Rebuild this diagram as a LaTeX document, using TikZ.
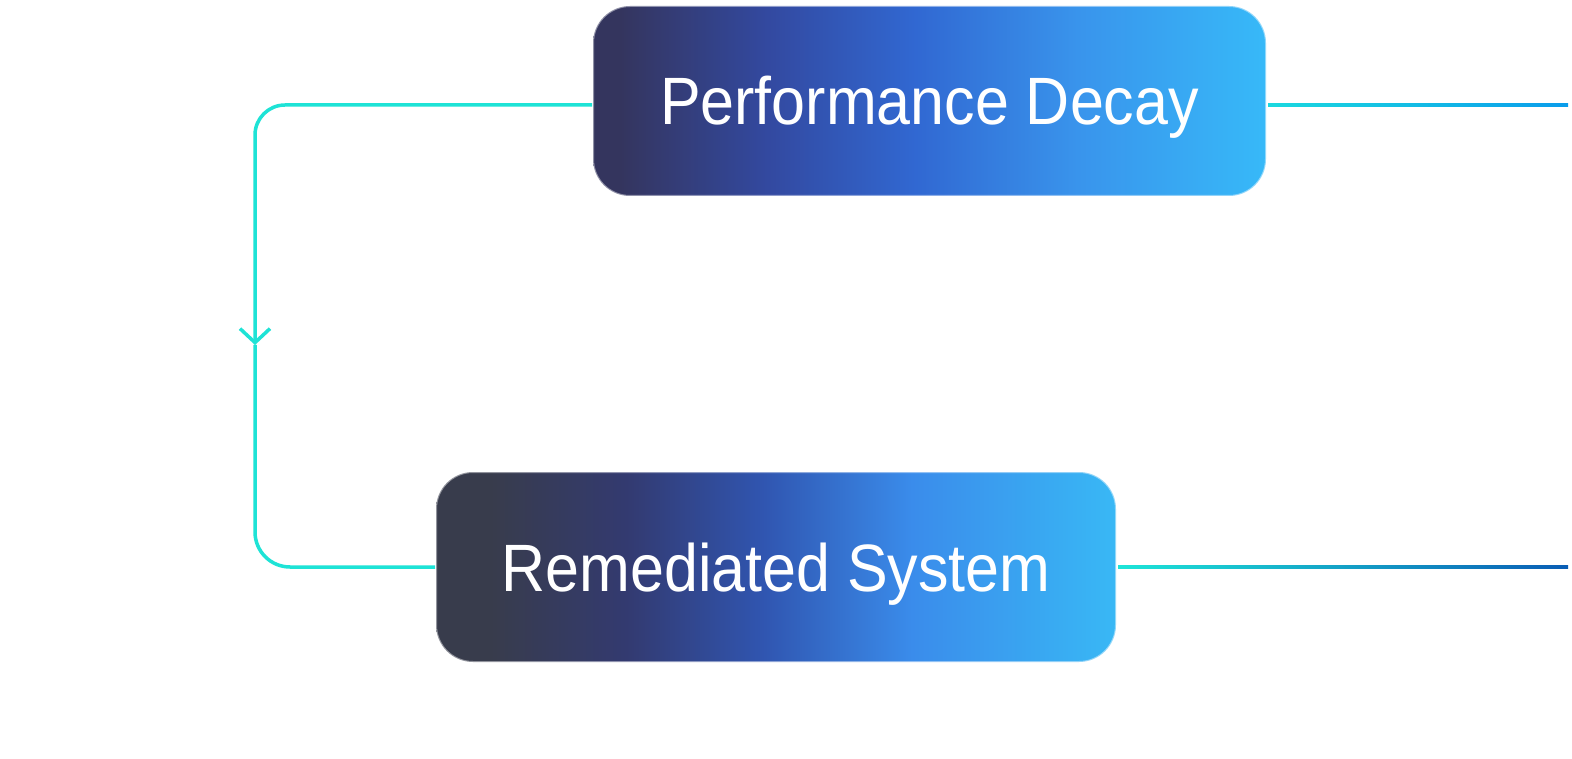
\documentclass[tikz,border=0pt]{standalone}
\usepackage{fontspec}
\setmainfont{Liberation Sans}
\usetikzlibrary{arrows.meta,calc}
\definecolor{lineCyan}{HTML}{1EE3D6}
\definecolor{pdA}{HTML}{34355E}
\definecolor{pdB}{HTML}{3349A0}
\definecolor{pdC}{HTML}{3168D2}
\definecolor{pdD}{HTML}{3994EC}
\definecolor{pdE}{HTML}{37B9F8}
\definecolor{rsA}{HTML}{383C4C}
\definecolor{rsB}{HTML}{333A70}
\definecolor{rsC}{HTML}{3055B0}
\definecolor{rsD}{HTML}{3A8CEB}
\definecolor{rsE}{HTML}{39B8F5}
\definecolor{tlA}{HTML}{1AD9DF}
\definecolor{tlB}{HTML}{0A9CEB}
\definecolor{blA}{HTML}{1DE5D8}
\definecolor{blB}{HTML}{0A5DB5}
\pgfdeclarehorizontalshading{pdfill}{100bp}{color(0bp)=(pdA); color(25bp)=(pdA); color(27bp)=(pdA); color(38bp)=(pdB); color(49bp)=(pdC); color(61bp)=(pdD); color(75bp)=(pdE); color(100bp)=(pdE)}
\pgfdeclarehorizontalshading{rsfill}{100bp}{color(0bp)=(rsA); color(25bp)=(rsA); color(29bp)=(rsA); color(39bp)=(rsB); color(49bp)=(rsC); color(60bp)=(rsD); color(75bp)=(rsE); color(100bp)=(rsE)}
\tikzset{
  boxnode/.style={rounded corners=37pt, inner sep=0pt, minimum height=190pt,
    text=white, font=\fontsize{67}{80}\selectfont, text height=48pt, text depth=0pt,
    draw=white, draw opacity=0.45, line width=2pt},
  conn/.style={draw=lineCyan, line width=3.5pt},
  tipbarb/.style={-{Straight Barb[length=14pt,width=30pt,line width=3.5pt]}}
}
\begin{document}
\begin{tikzpicture}[x=1pt,y=-1pt]
\useasboundingbox[fill=white] (0,0) rectangle (1572,759);
\node[boxnode, shading=pdfill, minimum width=673pt] (pd) at (929.5,101) {\scalebox{0.91}[1]{Performance Decay}};
\node[boxnode, shading=rsfill, minimum width=680pt] (rs) at (776,567) {\scalebox{0.91}[1]{Remediated System}};
\coordinate (mid) at (255,345);
\coordinate (te) at (1568,105);
\coordinate (be) at (1568,567);
\draw[conn, rounded corners=30pt, tipbarb] ([yshift=-4pt]pd.west) -| (mid);
\draw[conn, rounded corners=35pt] (mid) |- (rs.west);
\shade[left color=tlA, right color=tlB] ($([yshift=-4pt]pd.east)+(1,-1.75)$) rectangle ($(te)+(0,1.75)$);
\shade[left color=blA, right color=blB] ($(rs.east)+(1,-1.75)$) rectangle ($(be)+(0,1.75)$);
\end{tikzpicture}
\end{document}
